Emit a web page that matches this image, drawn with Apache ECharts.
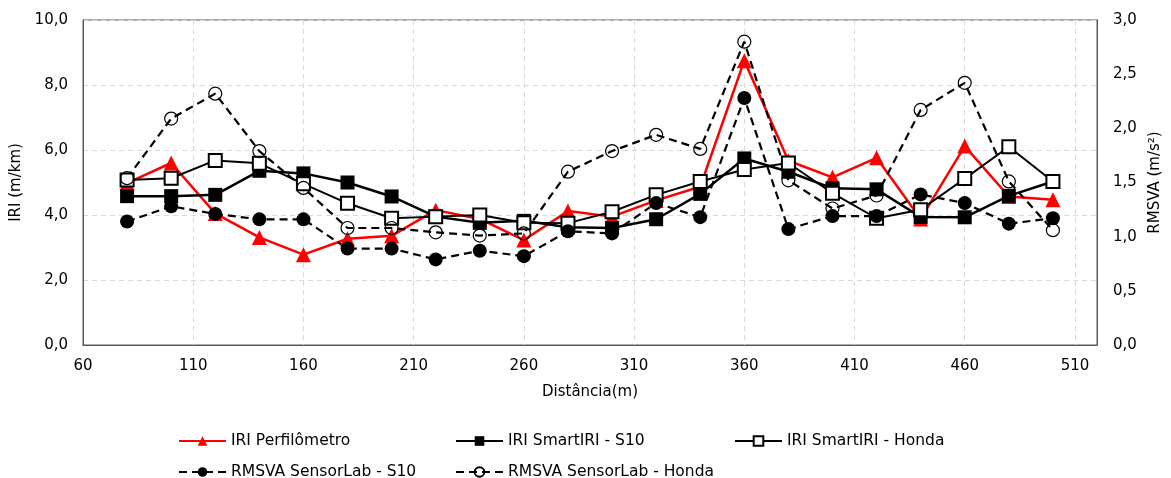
<!DOCTYPE html>
<html>
<head>
<meta charset="utf-8">
<script src="https://cdn.jsdelivr.net/npm/echarts@6/dist/echarts.min.js"></script>
<style>
  html, body { margin: 0; padding: 0; background: #fff; overflow: hidden; }
  #main { width: 1171px; height: 478px; }
</style>
</head>
<body>
<div id="main"></div>
<script>
// distancias (m)
var distancia = [80, 100, 120, 140, 160, 180, 200, 220, 240, 260, 280, 300, 320, 340, 360, 380, 400, 420, 440, 460, 480, 500]

// IRI (m/km) - eixo esquerdo
var iriPerfilometro = [4.98, 5.6, 4.05, 3.31, 2.78, 3.27, 3.36, 4.15, 3.88, 3.23, 4.12, 3.95, 4.45, 4.87, 8.75, 5.67, 5.16, 5.76, 3.88, 6.12, 4.57, 4.47]
var iriSmartS10 = [4.58, 4.58, 4.62, 5.36, 5.28, 5.0, 4.57, 3.95, 3.76, 3.82, 3.62, 3.6, 3.87, 4.65, 5.74, 5.33, 4.82, 4.79, 3.94, 3.93, 4.59, 5.03]
var iriSmartHonda = [5.08, 5.13, 5.68, 5.59, 4.96, 4.36, 3.9, 3.95, 4.0, 3.76, 3.75, 4.1, 4.62, 5.03, 5.4, 5.6, 4.67, 3.9, 4.16, 5.12, 6.1, 5.03]

// RMSVA (m/s²) - eixo direito
var rmsvaS10 = [1.14, 1.28, 1.21, 1.16, 1.16, 0.89, 0.89, 0.79, 0.87, 0.82, 1.05, 1.03, 1.31, 1.18, 2.28, 1.07, 1.19, 1.19, 1.39, 1.31, 1.12, 1.17]
var rmsvaHonda = [1.54, 2.09, 2.32, 1.79, 1.45, 1.08, 1.08, 1.04, 1.01, 1.03, 1.6, 1.79, 1.94, 1.81, 2.8, 1.52, 1.26, 1.38, 2.17, 2.42, 1.51, 1.06]

var FONT = 'DejaVu Sans'

function pares (vals) {
  var out = []
  for (var i = 0; i < distancia.length; i++) {
    out.push([distancia[i], vals[i]])
  }
  return out
}

function virgula (v) {
  return v.toFixed(1).replace('.', ',')
}

// uma legenda por item, para posicionar como no original
function legenda (nome, left, top) {
  return {
    data: [nome],
    left: left,
    top: top,
    itemWidth: 47,
    itemHeight: 12,
    padding: 0,
    textStyle: { fontFamily: FONT, fontSize: 15.5, color: '#000' }
  }
}

var chart = echarts.init(document.getElementById('main'))

chart.setOption({
  animation: false,
  textStyle: { fontFamily: FONT },
  grid: {
    left: 83,
    top: 20,
    right: 65,
    bottom: 133,
    show: true,
    borderColor: '#595959',
    borderWidth: 1
  },
  legend: [
    legenda('IRI Perfilômetro', 178, 433),
    legenda('IRI SmartIRI - S10', 455, 433),
    legenda('IRI SmartIRI - Honda', 734, 433),
    legenda('RMSVA SensorLab - S10', 178, 464),
    legenda('RMSVA SensorLab - Honda', 455, 464)
  ],
  xAxis: {
    type: 'value',
    min: 60,
    max: 520,
    interval: 50,
    name: 'Distância(m)',
    nameLocation: 'middle',
    nameGap: 40,
    nameTextStyle: { fontFamily: FONT, fontSize: 15, color: '#000' },
    axisLine: { lineStyle: { color: '#595959', width: 1 } },
    axisTick: { show: false },
    axisLabel: {
      margin: 14,
      showMaxLabel: false,
      fontFamily: FONT,
      fontSize: 15,
      color: '#000'
    },
    splitLine: {
      show: true,
      lineStyle: { color: '#d9d9d9', type: [5, 4], width: 1 }
    }
  },
  yAxis: [
    {
      type: 'value',
      min: 0,
      max: 10,
      interval: 2,
      name: 'IRI (m/km)',
      nameLocation: 'middle',
      nameRotate: 90,
      nameGap: 57,
      nameTextStyle: { fontFamily: FONT, fontSize: 15, color: '#000' },
      axisLine: { show: true, lineStyle: { color: '#595959', width: 1 } },
      axisTick: { show: false },
      axisLabel: {
        margin: 15,
        fontFamily: FONT,
        fontSize: 15,
        color: '#000',
        formatter: virgula
      },
      splitLine: {
        show: true,
        lineStyle: { color: '#d9d9d9', type: [5, 4], width: 1 }
      }
    },
    {
      type: 'value',
      position: 'right',
      min: 0,
      max: 3,
      interval: 0.5,
      name: 'RMSVA (m/s²)',
      nameLocation: 'middle',
      nameRotate: 90,
      nameGap: 51,
      nameTextStyle: { fontFamily: FONT, fontSize: 15, color: '#000' },
      axisLine: { show: true, lineStyle: { color: '#595959', width: 1 } },
      axisTick: { show: false },
      axisLabel: {
        margin: 16,
        fontFamily: FONT,
        fontSize: 15,
        color: '#000',
        formatter: virgula
      },
      splitLine: { show: false }
    }
  ],
  series: [
    {
      name: 'IRI Perfilômetro',
      type: 'line',
      yAxisIndex: 0,
      data: pares(iriPerfilometro),
      symbol: 'triangle',
      symbolSize: 15,
      lineStyle: { color: '#ff0000', width: 2.5 },
      itemStyle: { color: '#ff0000' }
    },
    {
      name: 'IRI SmartIRI - S10',
      type: 'line',
      yAxisIndex: 0,
      data: pares(iriSmartS10),
      symbol: 'rect',
      symbolSize: 14,
      lineStyle: { color: '#000', width: 2.5 },
      itemStyle: { color: '#000' }
    },
    {
      name: 'IRI SmartIRI - Honda',
      type: 'line',
      yAxisIndex: 0,
      data: pares(iriSmartHonda),
      symbol: 'emptyRect',
      symbolSize: 13,
      lineStyle: { color: '#000', width: 2 },
      itemStyle: { color: '#000', borderWidth: 1.3 }
    },
    {
      name: 'RMSVA SensorLab - S10',
      type: 'line',
      yAxisIndex: 1,
      data: pares(rmsvaS10),
      symbol: 'circle',
      symbolSize: 14,
      lineStyle: { color: '#000', width: 2.2, type: [8, 5] },
      itemStyle: { color: '#000' }
    },
    {
      name: 'RMSVA SensorLab - Honda',
      type: 'line',
      yAxisIndex: 1,
      data: pares(rmsvaHonda),
      symbol: 'circle',
      symbolSize: 13,
      lineStyle: { color: '#000', width: 2.2, type: [8, 5] },
      itemStyle: { color: 'rgba(255,255,255,0)', borderColor: '#000', borderWidth: 1.2 }
    }
  ]
})
</script>
</body>
</html>
